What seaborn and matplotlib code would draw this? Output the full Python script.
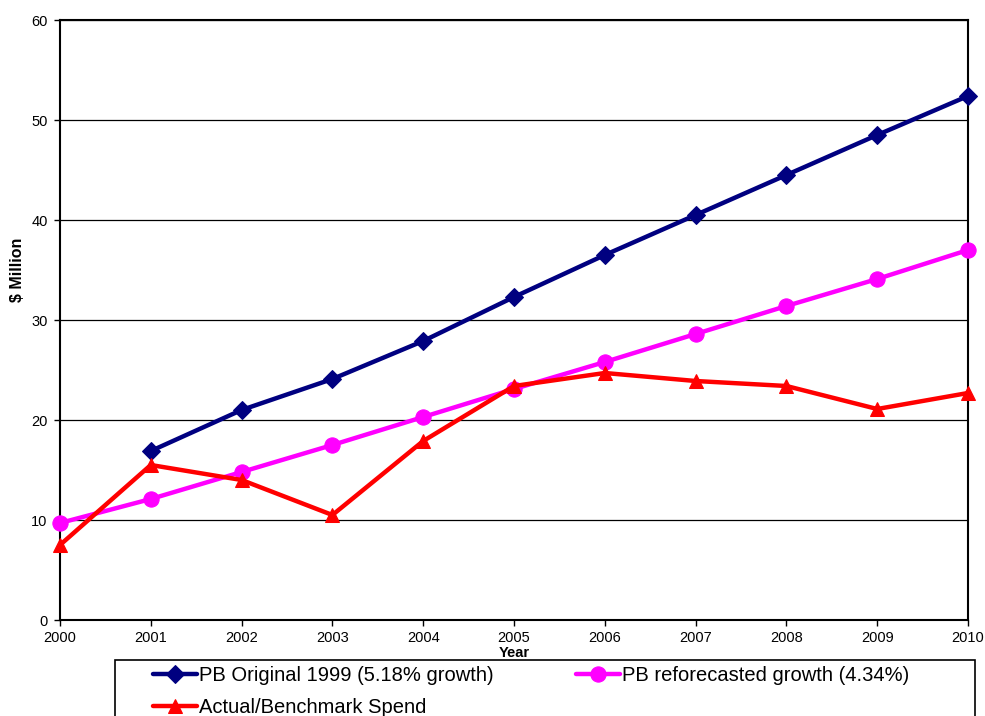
import numpy as np
import pandas as pd
import matplotlib
matplotlib.use("Agg")
import matplotlib.pyplot as plt
from matplotlib.patches import Rectangle
import seaborn as sns

years = [2000, 2001, 2002, 2003, 2004, 2005, 2006, 2007, 2008, 2009, 2010]
pb_original = [np.nan, 16.9, 21.0, 24.1, 27.9, 32.3, 36.5, 40.5, 44.5, 48.5, 52.4]
pb_reforecast = [9.7, 12.1, 14.8, 17.5, 20.3, 23.1, 25.8, 28.6, 31.4, 34.1, 37.0]
actual_spend = [7.5, 15.5, 14.0, 10.5, 17.9, 23.4, 24.7, 23.9, 23.4, 21.1, 22.7]

series_names = ["PB Original 1999 (5.18% growth)",
                "PB reforecasted growth (4.34%)",
                "Actual/Benchmark Spend"]
series_colors = ["#000080", "#FF00FF", "#FF0000"]
series_markers = ["D", "o", "^"]
y_ticks = [0, 10, 20, 30, 40, 50, 60]

sns.set_theme(style="white")
plt.rcParams["font.family"] = ["Liberation Sans", "DejaVu Sans"]
plt.rcParams["text.color"] = "black"
plt.rcParams["axes.labelcolor"] = "black"
plt.rcParams["xtick.color"] = "black"
plt.rcParams["ytick.color"] = "black"

W, H = 985, 716
fig = plt.figure(figsize=(W / 100, H / 100), dpi=100)
ax = fig.add_axes([60 / W, 1 - 620 / H, (968 - 60) / W, 600 / H])

df = pd.DataFrame({"Year": years,
                   series_names[0]: pb_original,
                   series_names[1]: pb_reforecast,
                   series_names[2]: actual_spend})

marker_sizes = {"D": 9, "o": 11, "^": 10}
for name, color, marker in zip(series_names, series_colors, series_markers):
    sub = df[["Year", name]].dropna()
    sns.lineplot(data=sub, x="Year", y=name, ax=ax, color=color, marker=marker,
                 markersize=marker_sizes[marker], markeredgecolor=color,
                 linewidth=3.2, label=name, zorder=3, clip_on=False)

ax.set_xlim(2000, 2010)
ax.set_ylim(0, 60)
ax.set_xticks(years)
ax.set_xticklabels([str(y) for y in years], fontsize=10.5)
ax.set_yticks(y_ticks)
ax.set_yticklabels([str(v) for v in y_ticks], fontsize=10.5)
ax.tick_params(axis="both", direction="out", length=4, width=1, color="black",
               labelcolor="black", bottom=True, left=True)
ax.tick_params(axis="x", pad=4)
ax.tick_params(axis="y", pad=5)
ax.yaxis.grid(True, color="black", linewidth=0.9)
ax.xaxis.grid(False)
for side in ["left", "bottom", "top", "right"]:
    ax.spines[side].set_visible(True)
    ax.spines[side].set_color("black")
    ax.spines[side].set_linewidth(1.5)

ax.set_xlabel("Year", fontsize=10.5, fontweight="bold", color="black")
ax.xaxis.set_label_coords(0.5, -(653 - 620) / 600, transform=ax.transAxes)
ax.xaxis.label.set_va("center")
ax.set_ylabel("$ Million", fontsize=11.5, fontweight="bold", color="black")
ax.yaxis.set_label_coords((17 - 60) / 908, (620 - 270) / 600, transform=ax.transAxes)
ax.yaxis.label.set_va("center")

# legend: row-wise order across two columns
ax.get_legend().remove()
handles, labels = ax.get_legend_handles_labels()
order = [0, 2, 1]
leg = fig.legend([handles[i] for i in order], [labels[i] for i in order],
                 loc="upper left", ncol=2, bbox_to_anchor=(153 / W, 1 - 666 / H),
                 fontsize=14.5, frameon=False, borderaxespad=0, borderpad=0,
                 handlelength=2.2, handletextpad=0.1, labelspacing=0.65,
                 columnspacing=4.05)
for t in leg.get_texts():
    t.set_color("black")

# legend border, running past the bottom edge of the figure
fig.patches.append(Rectangle((115 / W, -0.05), (975 - 115) / W, 1 - 660 / H + 0.05,
                             transform=fig.transFigure, fill=False,
                             edgecolor="black", linewidth=1.2))

fig.savefig("out.png", dpi=100)
